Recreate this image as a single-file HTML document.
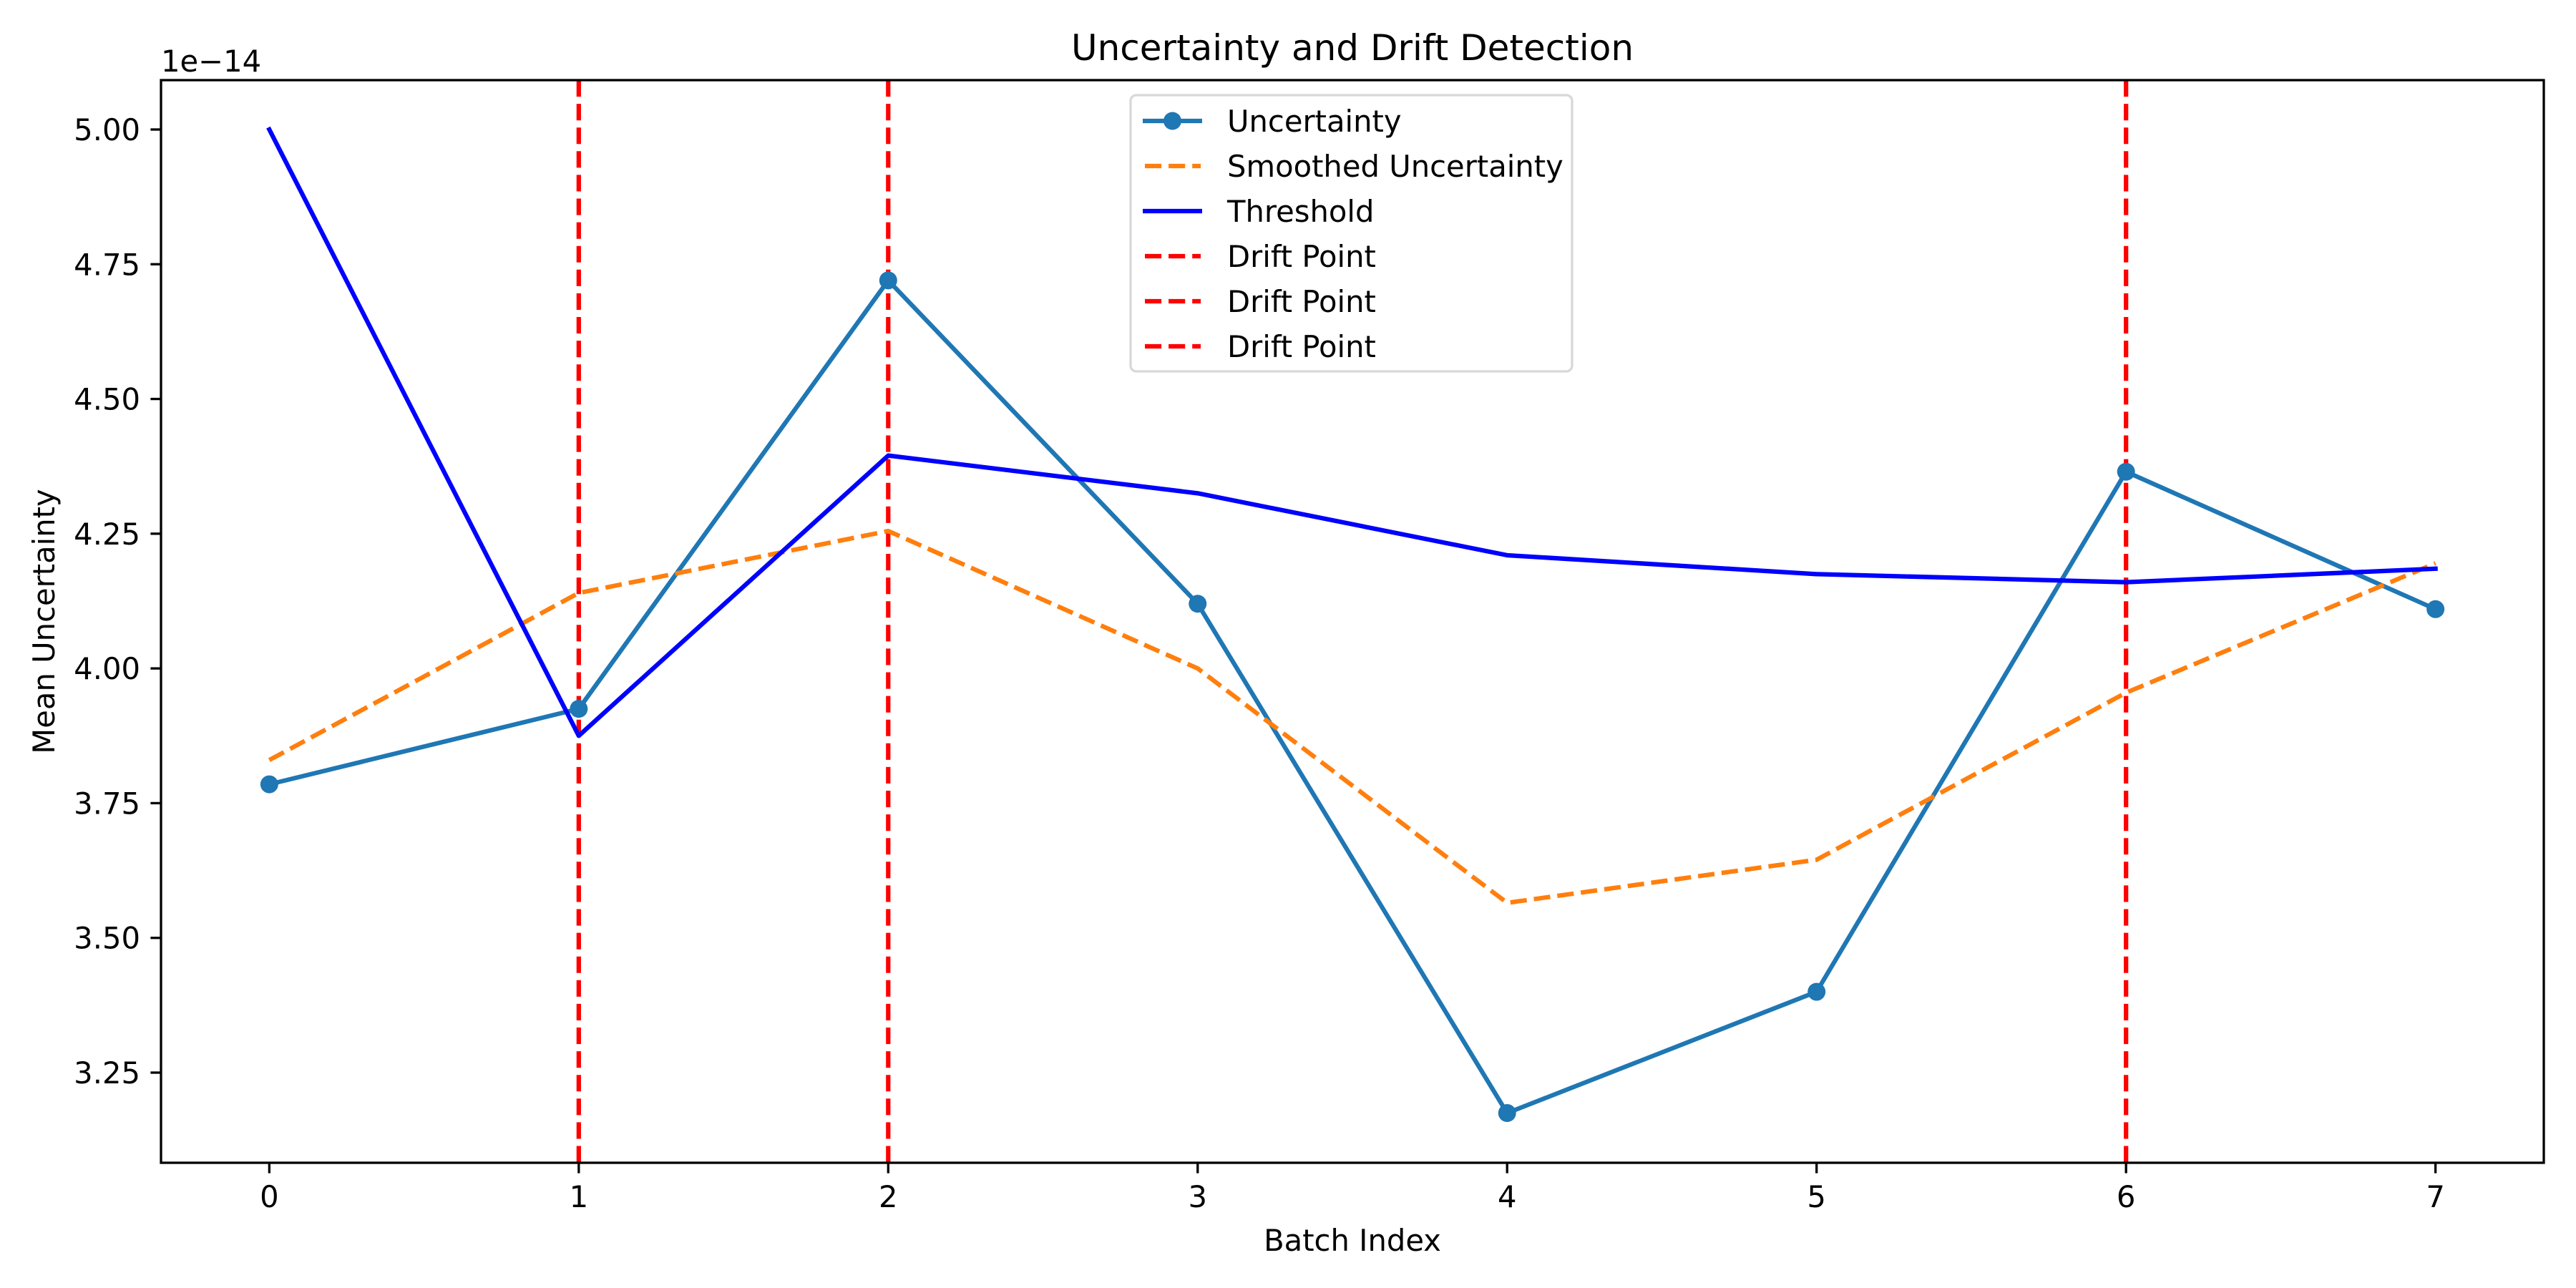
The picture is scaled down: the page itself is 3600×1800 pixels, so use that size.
<!DOCTYPE html>
<html><head><meta charset="utf-8"><style>
html,body{margin:0;padding:0;background:#fff;}
svg{display:block;font-family:"DejaVu Sans","Liberation Sans",sans-serif;}
</style></head><body>
<svg id="chart" width="3600" height="1800" viewBox="0 0 3600 1800" xmlns="http://www.w3.org/2000/svg">
<rect width="3600" height="1800" fill="#fff"/>
<g id="plot"></g>
</svg>
<script>
const categories = [0,1,2,3,4,5,6,7];
const uncertainty = [3.785,3.925,4.72,4.12,3.175,3.40,4.365,4.11];
const smoothed = [3.83,4.14,4.255,4.00,3.565,3.645,3.955,4.195];
const threshold = [5.00,3.875,4.395,4.325,4.21,4.175,4.16,4.185];
const driftPoints = [1,2,6];
const yTicks = [3.25,3.50,3.75,4.00,4.25,4.50,4.75,5.00];
const yTickLabels = ["3.25","3.50","3.75","4.00","4.25","4.50","4.75","5.00"];

const L=225,R=3555,T=112,B=1625;
const xMin=-0.35,xMax=7.35,yMin=3.0827,yMax=5.0916;
const NS="http://www.w3.org/2000/svg";
const g=document.getElementById('plot');
function sx(v){return L+(v-xMin)/(xMax-xMin)*(R-L);}
function sy(v){return B-(v-yMin)/(yMax-yMin)*(B-T);}
function el(tag,attrs,parent){const e=document.createElementNS(NS,tag);for(const k in attrs)e.setAttribute(k,attrs[k]);(parent||g).appendChild(e);return e;}
function txt(s,attrs){const e=el('text',attrs);e.textContent=s;return e;}

const defs=el('defs',{});
const cp=el('clipPath',{id:'clip'},defs);
el('rect',{x:L,y:T,width:R-L,height:B-T},cp);
const plotArea=el('g',{'clip-path':'url(#clip)'});



driftPoints.forEach((d,i)=>{
  const ln=el('line',{x1:sx(d),x2:sx(d),y1:T,y2:B,stroke:'#ff0000','stroke-width':6.25,'stroke-dasharray':'23.1 10'},plotArea);
  
  
});
function poly(vals,attrs,name){
  const p=el('polyline',Object.assign({points:vals.map((v,i)=>sx(categories[i])+','+sy(v)).join(' '),fill:'none','stroke-width':6.25,'stroke-linejoin':'round','stroke-linecap':'square'},attrs),plotArea);
  
  
  return p;
}
poly(uncertainty,{stroke:'#1f77b4'},'uncertainty-line');
uncertainty.forEach((v,i)=>{
  const c=el('circle',{cx:sx(categories[i]),cy:sy(v),r:12.5,fill:'#1f77b4'},plotArea);
  
  
});
poly(smoothed,{stroke:'#ff7f0e','stroke-dasharray':'23.1 10','stroke-linecap':'butt'},'smoothed-line');
poly(threshold,{stroke:'#0000ff'},'threshold-line');

const sp=el('rect',{x:L,y:T,width:R-L,height:B-T,fill:'none',stroke:'#000','stroke-width':3.3});



categories.forEach(c=>{
  const t=el('line',{x1:sx(c),x2:sx(c),y1:B,y2:B+14.6,stroke:'#000','stroke-width':3.3});
  
  
  const l=txt(String(c),{x:sx(c),y:1687,'font-size':41.7,'text-anchor':'middle',fill:'#000'});
  
  
});
yTicks.forEach((v,i)=>{
  const t=el('line',{x1:L-14.6,x2:L,y1:sy(v),y2:sy(v),stroke:'#000','stroke-width':3.3});
  
  
  const l=txt(yTickLabels[i],{x:L-29,y:sy(v)+15,'font-size':41.7,'text-anchor':'end',fill:'#000'});
  
  
});
const off=txt('1e\u221214',{x:L,y:100,'font-size':41.7,fill:'#000'});


const ti=txt('Uncertainty and Drift Detection',{x:(L+R)/2,y:84,'font-size':50,'text-anchor':'middle',fill:'#000'});


const xl=txt('Batch Index',{x:(L+R)/2,y:1748,'font-size':41.7,'text-anchor':'middle',fill:'#000'});


const yl=txt('Mean Uncertainty',{x:0,y:0,'font-size':41.7,'text-anchor':'middle',fill:'#000',transform:'translate(76,'+((T+B)/2)+') rotate(-90)'});



const lg=el('g',{});


el('rect',{x:1580,y:133,width:617,height:386,rx:8,fill:'#fff','fill-opacity':0.8,stroke:'#d8d8d8','stroke-width':3.3},lg);
const entries=[
 {label:'Uncertainty',color:'#1f77b4',dash:null,marker:true},
 {label:'Smoothed Uncertainty',color:'#ff7f0e',dash:'23.1 10'},
 {label:'Threshold',color:'#0000ff',dash:null},
 {label:'Drift Point',color:'#ff0000',dash:'23.1 10'},
 {label:'Drift Point',color:'#ff0000',dash:'23.1 10'},
 {label:'Drift Point',color:'#ff0000',dash:'23.1 10'}];
entries.forEach((e,i)=>{
  const cy=169+i*63;
  const eg=el('g',{},lg);
  
  
  const a={x1:1597,x2:1680,y1:cy,y2:cy,stroke:e.color,'stroke-width':6.25};
  if(e.dash){a['stroke-dasharray']=e.dash;a.x1=1600;a.x2=1678;}
  el('line',a,eg);
  if(e.marker) el('circle',{cx:1638.5,cy:cy,r:12.5,fill:e.color},eg);
  const t=el('text',{x:1715,y:cy+15,'font-size':41.7,fill:'#000'},eg);
  t.textContent=e.label;
});
</script>
</body></html>
